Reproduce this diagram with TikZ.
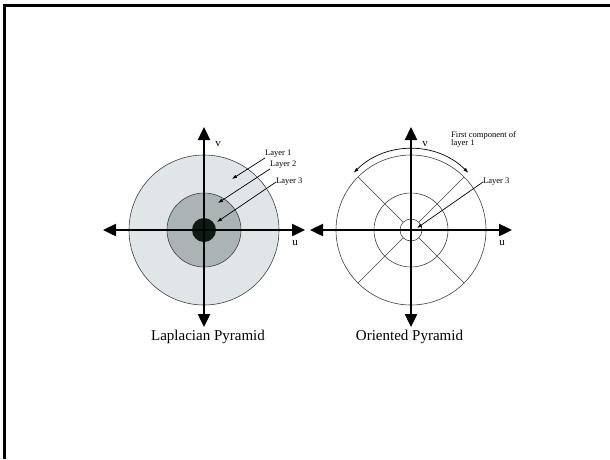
\documentclass[tikz,border=0pt]{standalone}
\usepackage{fontspec}
\setmainfont{Liberation Serif}
\usetikzlibrary{arrows.meta,calc}

\definecolor{ringout}{RGB}{224,229,231}
\definecolor{ringmid}{RGB}{170,180,181}
\definecolor{corefill}{RGB}{12,28,18}

\begin{document}
\begin{tikzpicture}[
  x=1pt, y=-1pt,
  axis/.style={line width=2.4pt, {Triangle[length=13pt,width=12pt]}-{Triangle[length=13pt,width=12pt]}},
  ring/.style={draw=black!75, line width=0.6pt},
  pointer/.style={line width=0.7pt, -{Latex[length=5pt,width=3.5pt]}},
  tag/.style={font=\fontsize{8.5}{8.5}\selectfont, inner sep=0pt, align=left},
  axlabel/.style={font=\fontsize{11}{11}\selectfont, inner sep=0pt},
  caption/.style={font=\fontsize{15}{17}\selectfont, inner sep=0pt, anchor=base},
]
\useasboundingbox (0,0) rectangle (610,459);

% frame: only the top and left edges show
\draw[line width=2.8pt] (4.5,459) -- (4.5,5.3) -- (610,5.3);

% centres of the two spectra
\coordinate (lc) at (204,230);
\coordinate (rc) at (411,230);

% (a) Laplacian pyramid -- filled rings, outer to inner
\fill[ringout] (lc) circle[radius=75];
\draw[ring] (lc) circle[radius=75];
\fill[ringmid] (lc) circle[radius=37];
\draw[ring] (lc) circle[radius=37];
\fill[corefill] (lc) circle[radius=12];

% (b) oriented pyramid -- empty rings cut into sectors
\foreach \r in {75,37,11}
  \draw[ring] (rc) circle[radius=\r];
\foreach \a in {45,135,225,315}
  \draw[ring] ($(rc)+(\a:11)$) -- ($(rc)+(\a:75)$);

% axes
\coordinate (lxw) at (103,230); \coordinate (lxe) at (305,230);
\coordinate (lyn) at (204,127); \coordinate (lys) at (204,327);
\coordinate (rxw) at (310,230); \coordinate (rxe) at (512,230);
\coordinate (ryn) at (411,127); \coordinate (rys) at (411,327);
\draw[axis] (lxw) -- (lxe);
\draw[axis] (lyn) -- (lys);
\draw[axis] (rxw) -- (rxe);
\draw[axis] (ryn) -- (rys);

\node[axlabel] (lv) at (218,144) {v};
\node[axlabel] (lu) at (295,243) {u};
\node[axlabel] (rv) at (425,144) {v};
\node[axlabel] (ru) at (502,243) {u};

% layer labels, left
\node[tag, anchor=west] (lay1) at (265,154) {Layer 1};
\node[tag, anchor=west] (lay2) at (270,165) {Layer 2};
\node[tag, anchor=west] (lay3) at (276,182) {Layer 3};
\coordinate (tip1) at (232,179);
\coordinate (tip2) at (218,203);
\coordinate (tip3) at (217,222);
\draw[pointer] (lay1.south west) -- (tip1);
\draw[pointer] (lay2.south west) -- (tip2);
\draw[pointer] (lay3.west) -- (tip3);

% layer labels, right
\node[tag, anchor=north west] (first) at (451,131) {First component of\\layer 1};
\node[tag, anchor=west] (rlay3) at (483,182) {Layer 3};
\coordinate (rtip3) at (417,228);
\draw[pointer] (rlay3.west) -- (rtip3);
\draw[line width=0.7pt, {Latex[length=5pt,width=3.5pt]}-{Latex[length=5pt,width=3.5pt]}]
  ($(rc)+(-135:81)$) arc[start angle=-135, end angle=-45, radius=81];

% captions
\node[caption] (lap) at (208,340) {Laplacian Pyramid};
\node[caption] (ori) at (409.5,340) {Oriented Pyramid};

\end{tikzpicture}
\end{document}
